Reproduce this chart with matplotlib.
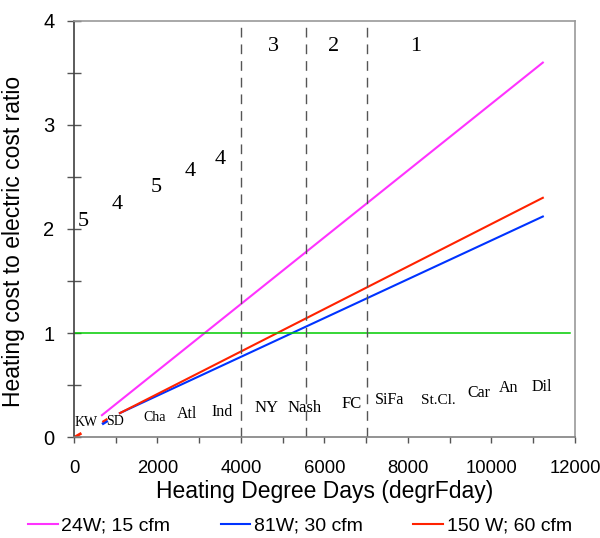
import matplotlib
matplotlib.use("Agg")
import matplotlib.pyplot as plt
from matplotlib.ticker import MultipleLocator

# heating-degree-day range covered by each ventilation case
hdd_end = 11230
hdd_start_15 = 670
hdd_start_30 = 1100

ratio_15cfm = [0.21, 3.60]
ratio_30cfm = [0.23, 2.12]
ratio_60cfm = [0.23, 2.30]

# short stubs at the warmest locations
kw_hdd = [20, 150]
kw_ratio = [0.0, 0.03]
sd_hdd = [700, 780]
sd_ratio_30 = [0.13, 0.15]
sd_ratio_60 = [0.15, 0.17]

breakeven = 1.0
zone_limits = [4000, 5550, 7030]

zone_labels = ["3", "2", "1"]
zone_label_x = [4780, 6220, 8180]
zone_label_y = 3.75

zone_digits = ["5", "4", "5", "4", "4"]
zone_digit_x = [215, 1030, 1970, 2780, 3500]
zone_digit_y = [2.07, 2.24, 2.40, 2.55, 2.67]

cities = ["KW", "SD", "Cha", "Atl", "Ind", "NY", "Nash", "FC",
          "SiFa", "St.Cl.", "Car", "An", "Dil"]
city_x = [290, 985, 1920, 2710, 3550, 4610, 5520, 6650,
          7560, 8720, 9700, 10400, 11200]
city_y = [0.135, 0.145, 0.19, 0.225, 0.24, 0.28, 0.28, 0.32,
          0.36, 0.35, 0.42, 0.47, 0.48]
city_size = [10, 10, 10, 11.5, 11.5, 12, 12, 12, 11.5, 11, 11.5, 11.5, 11.5]

series_names = ["24W; 15 cfm", "81W; 30 cfm", "150 W; 60 cfm"]
series_colors = ["#ff33ff", "#0033ff", "#ff2200"]

fig = plt.figure(figsize=(6.0, 5.38), dpi=100)
ax = fig.add_axes([0.1233, 0.1877, 0.835, 0.7733])

h1, = ax.plot([hdd_start_15, hdd_end], ratio_15cfm, color=series_colors[0], lw=1.5)
h2, = ax.plot([hdd_start_30, hdd_end], ratio_30cfm, color=series_colors[1], lw=1.5)
h3, = ax.plot([hdd_start_30, hdd_end], ratio_60cfm, color=series_colors[2], lw=1.5)
ax.plot(kw_hdd, kw_ratio, color=series_colors[2], lw=2)
ax.plot(sd_hdd, sd_ratio_30, color=series_colors[1], lw=2)
ax.plot(sd_hdd, sd_ratio_60, color=series_colors[2], lw=1.5)

ax.plot([0, 11880], [breakeven, breakeven], color="#00cc00", lw=1.1)

for xz in zone_limits:
    ax.axvline(xz, color="#555555", lw=1, dashes=(7, 5))

serif = "Liberation Serif"
for t, xx in zip(zone_labels, zone_label_x):
    ax.text(xx, zone_label_y, t, family=serif, fontsize=16, ha="center", va="center")
for t, xx, yy in zip(zone_digits, zone_digit_x, zone_digit_y):
    ax.text(xx, yy, t, family=serif, fontsize=16, ha="center", va="center")
for t, xx, yy, fs in zip(cities, city_x, city_y, city_size):
    ax.text(xx, yy, t, family=serif, fontsize=fs, ha="center", va="center")

ax.set_xlim(0, 12000)
ax.set_ylim(0, 4)
ax.xaxis.set_major_locator(MultipleLocator(2000))
ax.xaxis.set_minor_locator(MultipleLocator(1000))
ax.yaxis.set_major_locator(MultipleLocator(1))
ax.yaxis.set_minor_locator(MultipleLocator(0.5))
ax.tick_params(axis="x", which="both", direction="out", length=4.5, width=1,
               color="#555555", labelsize=13.3, pad=12)
ax.tick_params(axis="y", which="both", direction="inout", length=10, width=1,
               color="#555555", labelsize=14.5, pad=9)
for lbl in ax.get_xticklabels() + ax.get_yticklabels():
    lbl.set_family("Liberation Sans")

ax.spines["left"].set_color("#404040")
ax.spines["bottom"].set_color("#808080")
ax.spines["top"].set_color("#999999")
ax.spines["right"].set_color("#999999")
for s in ax.spines.values():
    s.set_linewidth(1.2)

ax.set_xlabel("Heating Degree Days (degrFday)", family="Liberation Sans",
              fontsize=16.5, labelpad=2)
ax.set_ylabel("Heating cost to electric cost ratio", family="Liberation Sans",
              fontsize=16.5)
ax.yaxis.set_label_coords(-0.097, 0.47)

fig.legend([h1, h2, h3], series_names, loc="center", ncol=3,
           frameon=False, prop={"family": "Liberation Sans", "size": 14},
           bbox_to_anchor=(0.5, 1 - 526 / 538), handlelength=1.5,
           columnspacing=2.6, handletextpad=0.2, borderaxespad=0)

fig.savefig("out.png", dpi=100)
